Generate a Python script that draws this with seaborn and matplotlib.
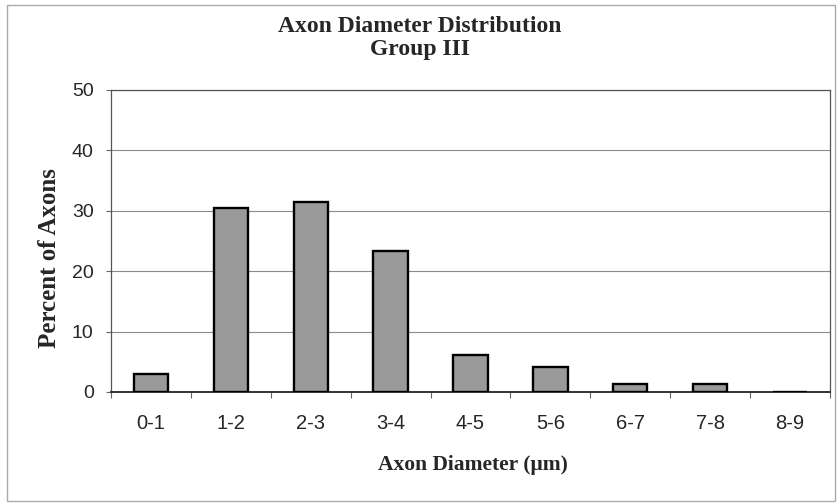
import matplotlib
matplotlib.use("Agg")
import matplotlib.pyplot as plt
import seaborn as sns
import pandas as pd
from matplotlib.patches import Rectangle

categories = ["0-1", "1-2", "2-3", "3-4", "4-5", "5-6", "6-7", "7-8", "8-9"]
percent = [3.0, 30.4, 31.5, 23.4, 6.1, 4.1, 1.3, 1.3, 0.0]
yticks = [0, 10, 20, 30, 40, 50]

df = pd.DataFrame({"cat": categories, "pct": percent})

sns.set_theme(style="white")
plt.rcParams["font.family"] = ["Liberation Sans", "DejaVu Sans"]
SERIF = ["Liberation Serif", "DejaVu Serif"]

W, H = 839, 503
L, R, T, B = 111, 830, 90, 392
fig = plt.figure(figsize=(W / 100, H / 100), dpi=100)
ax = fig.add_axes([L / W, 1 - B / H, (R - L) / W, (B - T) / H])

sns.barplot(data=df, x="cat", y="pct", ax=ax, color="#9a9a9a", saturation=1,
            width=0.43, edgecolor="black", linewidth=1.7, zorder=3)

ax.set_ylim(0, 50)
ax.set_xlim(-0.5, len(categories) - 0.5)
ax.set_yticks(yticks)
ax.set_yticklabels([str(v) for v in yticks], fontsize=14)
for v in yticks[1:]:
    ax.axhline(v, color="#8a8a8a", lw=0.8, zorder=1)

# x ticks at category boundaries, labels centred in categories
ax.set_xticks([i - 0.5 for i in range(len(categories) + 1)], minor=False)
ax.set_xticklabels([])
ax.set_xticks(range(len(categories)), minor=True)
ax.set_xticklabels(categories, minor=True, fontsize=14.5)
ax.tick_params(axis="x", which="major", direction="out", length=4, width=0.8, color="#666666", bottom=True)
ax.tick_params(axis="x", which="minor", length=0, pad=15.5)
ax.tick_params(axis="y", direction="out", length=3.5, width=0.8, color="#666666", left=True, pad=9)

for side in ["left", "top", "right"]:
    ax.spines[side].set_color("#555555")
    ax.spines[side].set_linewidth(0.9)
ax.spines["bottom"].set_color("#333333")
ax.spines["bottom"].set_linewidth(1.4)

ax.set_xlabel("Axon Diameter (μm)", family=SERIF, fontweight="bold", fontsize=15.5)
ax.xaxis.set_label_coords((473 - L) / (R - L), -(465 - B) / (B - T))
ax.xaxis.label.set_va("center")
ax.set_ylabel("Percent of Axons", family=SERIF, fontweight="bold", fontsize=18)
ax.yaxis.set_label_coords(-(L - 50) / (R - L), (B - 258) / (B - T))
ax.yaxis.label.set_va("center")

fig.text(0.5, 1 - 27 / H, "Axon Diameter Distribution", ha="center", va="center",
         family=SERIF, fontweight="bold", fontsize=17)
fig.text(0.5, 1 - 50 / H, "Group III", ha="center", va="center",
         family=SERIF, fontweight="bold", fontsize=17)

fig.patches.append(Rectangle((7 / W, 1 - 501 / H), (835 - 7) / W, (501 - 5) / H,
                             transform=fig.transFigure, fill=False, edgecolor="#aaaaaa", lw=1))

fig.savefig("out.png", dpi=100)
